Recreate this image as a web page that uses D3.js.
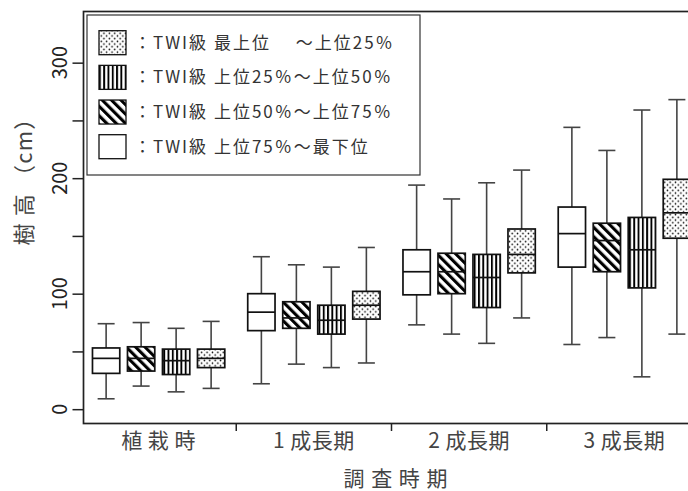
<!DOCTYPE html>
<html>
<head>
<meta charset="utf-8">
<script src="https://cdn.jsdelivr.net/npm/d3@7"></script>
<style>
  html, body { margin: 0; padding: 0; background: #fff; }
  svg { display: block; }
  text { font-family: "Noto Sans CJK JP", "Noto Sans", sans-serif; }
</style>
</head>
<body>
<svg id="chart" width="688" height="491"></svg>
<script>
// ---- data ----
const categories = ["植 栽 時", "1 成長期", "2 成長期", "3 成長期"];
const seriesKeys = ["low", "mid2", "mid1", "top"]; // order of boxes inside each group
const seriesLabels = {
  top:  "：TWI級 最上位　 ～上位25％",
  mid1: "：TWI級 上位25％～上位50％",
  mid2: "：TWI級 上位50％～上位75％",
  low:  "：TWI級 上位75％～最下位"
};
const legendOrder = ["top", "mid1", "mid2", "low"];
// [min, q1, median, q3, max] per category
const lowValues  = [[9, 31, 44, 53, 74], [22, 68, 84, 100, 132], [73, 99, 119, 138, 194], [56, 123, 152, 175, 244]];
const mid2Values = [[20, 33, 44, 54, 75], [39, 70, 79, 93, 125], [65, 100, 119, 135, 182], [62, 119, 146, 161, 224]];
const mid1Values = [[15, 30, 42, 52, 70], [36, 65, 77, 90, 123], [57, 88, 114, 134, 196], [28, 105, 138, 166, 259]];
const topValues  = [[18, 36, 44, 52, 76], [40, 78, 90, 102, 140], [79, 118, 134, 156, 207], [65, 148, 170, 199, 268]];
const yTicks = [0, 50, 100, 150, 200, 250, 300];
const yTickLabels = [0, 100, 200, 300];
const yTitle = "樹 高 （cm）";
const xTitle = "調 査 時 期";

const valuesBySeries = { low: lowValues, mid2: mid2Values, mid1: mid1Values, top: topValues };
const fillBySeries = { low: "#fff", mid2: "url(#pDiag)", mid1: "url(#pVert)", top: "url(#pDot)" };

const svg = d3.select("#chart");

// ---- patterns ----
const defs = svg.append("defs");
const pDot = defs.append("pattern").attr("id", "pDot").attr("patternUnits", "userSpaceOnUse")
  .attr("width", 5.4).attr("height", 5.4);
pDot.append("rect").attr("width", 5.4).attr("height", 5.4).attr("fill", "#fff");
pDot.append("circle").attr("cx", 1.35).attr("cy", 1.35).attr("r", 0.8).attr("fill", "#000");
pDot.append("circle").attr("cx", 4.05).attr("cy", 4.05).attr("r", 0.8).attr("fill", "#000");

const pVert = defs.append("pattern").attr("id", "pVert").attr("patternUnits", "userSpaceOnUse")
  .attr("width", 4.3).attr("height", 10);
pVert.append("rect").attr("width", 4.3).attr("height", 10).attr("fill", "#fff");
pVert.append("rect").attr("x", 0).attr("width", 1.9).attr("height", 10).attr("fill", "#000");

const pDiag = defs.append("pattern").attr("id", "pDiag").attr("patternUnits", "userSpaceOnUse")
  .attr("width", 6.6).attr("height", 10).attr("patternTransform", "rotate(-45)");
pDiag.append("rect").attr("width", 6.6).attr("height", 10).attr("fill", "#fff");
pDiag.append("rect").attr("x", 0).attr("width", 3.1).attr("height", 10).attr("fill", "#000");

// ---- scales ----
const y = d3.scaleLinear().domain([-12.4, 344.3]).range([423.5, 11.5]);
const x = d3.scaleBand().domain(categories).range([81, 702]).padding(0);
const xi = d3.scaleBand().domain(seriesKeys).range([-70, 70]).paddingInner(0.22).paddingOuter(0.11);
const capW = 17;

// ---- plot frame ----
svg.append("rect").attr("x", 83.5).attr("y", 11.5).attr("width", 640).attr("height", 412)
  .attr("fill", "none").attr("stroke", "#222").attr("stroke-width", 1.7);

// ---- y axis ----
const yAxis = d3.axisLeft(y).tickValues(yTicks).tickSize(11).tickFormat("");
const gy = svg.append("g").attr("transform", "translate(83.5,0)").call(yAxis);
gy.select(".domain").remove();
gy.selectAll(".tick line").attr("stroke", "#222").attr("stroke-width", 1.5);
svg.append("g").selectAll("text").data(yTickLabels).join("text")
  .attr("transform", d => `translate(60,${y(d)}) rotate(-90)`)
  .attr("text-anchor", "middle").attr("dy", "0.36em")
  .attr("font-size", 20).attr("fill", "#222").text(d => d);
svg.append("text").attr("transform", `translate(24,176) rotate(-90)`)
  .attr("text-anchor", "middle").attr("dy", "0.36em")
  .attr("font-size", 22).attr("letter-spacing", 1.2).attr("fill", "#444").text(yTitle);

// ---- x axis ----
svg.append("g").selectAll("line").data(categories.slice(1)).join("line")
  .attr("x1", d => x(d)).attr("x2", d => x(d)).attr("y1", 423.5).attr("y2", 431)
  .attr("stroke", "#222").attr("stroke-width", 1.5);
svg.append("g").selectAll("text").data(categories).join("text")
  .attr("x", d => x(d) + x.bandwidth() / 2).attr("y", 448)
  .attr("text-anchor", "middle").attr("font-size", 21).attr("letter-spacing", 0.5)
  .attr("fill", "#444").text(d => d);
svg.append("text").attr("x", 396).attr("y", 486).attr("text-anchor", "middle")
  .attr("font-size", 21).attr("letter-spacing", 1).attr("fill", "#444").text(xTitle);

// ---- boxes ----
const boxData = [];
seriesKeys.forEach(s => {
  categories.forEach((c, i) => {
    const v = valuesBySeries[s][i];
    boxData.push({ s, c, min: v[0], q1: v[1], med: v[2], q3: v[3], max: v[4] });
  });
});
const gBox = svg.append("g").selectAll("g").data(boxData).join("g")
  .attr("transform", d => `translate(${x(d.c) + x.bandwidth() / 2 + xi(d.s) + xi.bandwidth() / 2},0)`);
gBox.append("line").attr("x1", 0).attr("x2", 0).attr("y1", d => y(d.min)).attr("y2", d => y(d.max))
  .attr("stroke", "#444").attr("stroke-width", 1.6);
gBox.append("line").attr("x1", -capW / 2).attr("x2", capW / 2).attr("y1", d => y(d.min)).attr("y2", d => y(d.min))
  .attr("stroke", "#444").attr("stroke-width", 1.6);
gBox.append("line").attr("x1", -capW / 2).attr("x2", capW / 2).attr("y1", d => y(d.max)).attr("y2", d => y(d.max))
  .attr("stroke", "#444").attr("stroke-width", 1.6);
gBox.append("rect").attr("x", -xi.bandwidth() / 2).attr("width", xi.bandwidth())
  .attr("y", d => y(d.q3)).attr("height", d => y(d.q1) - y(d.q3))
  .attr("fill", d => fillBySeries[d.s]).attr("stroke", "#111").attr("stroke-width", 1.7);
gBox.append("line").attr("x1", -xi.bandwidth() / 2).attr("x2", xi.bandwidth() / 2)
  .attr("y1", d => y(d.med)).attr("y2", d => y(d.med))
  .attr("stroke", "#111").attr("stroke-width", 1.7);

// ---- legend ----
const lg = svg.append("g");
lg.append("rect").attr("x", 87).attr("y", 15).attr("width", 333).attr("height", 160)
  .attr("fill", "#fff").attr("stroke", "#333").attr("stroke-width", 1.2);
const rowY = d3.scalePoint().domain(legendOrder).range([42.7, 146.7]);
const items = lg.selectAll("g.item").data(legendOrder).join("g").attr("class", "item")
  .attr("transform", d => `translate(0,${rowY(d)})`);
items.append("rect").attr("x", 99).attr("y", -12).attr("width", 27).attr("height", 24)
  .attr("fill", d => fillBySeries[d]).attr("stroke", "#111").attr("stroke-width", 1.3);
items.append("text").attr("x", 134).attr("y", 0).attr("dy", "0.36em")
  .attr("font-size", 17).attr("fill", "#333").attr("letter-spacing", 2)
  .text(d => seriesLabels[d]);
</script>
</body>
</html>
